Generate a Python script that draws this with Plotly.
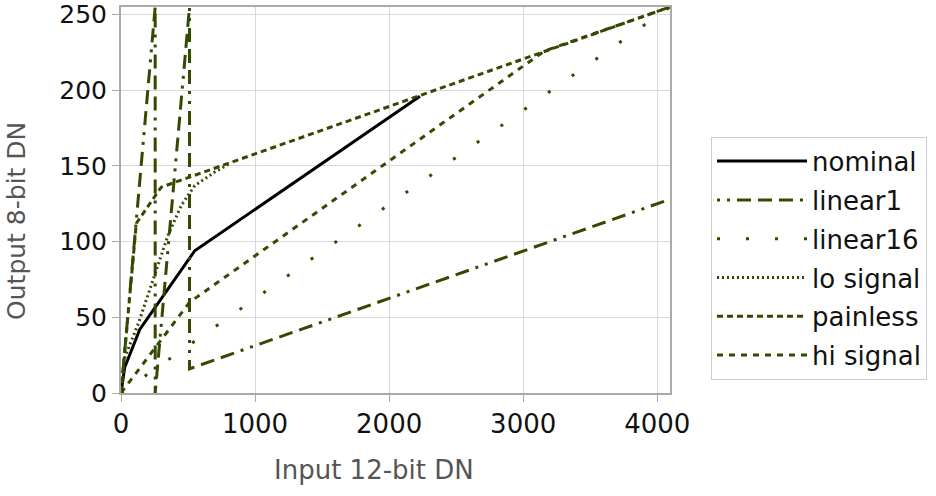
import plotly.graph_objects as go

# ---- data ----
nominal_x = [0, 28, 140, 550, 2230]
nominal_y = [0, 17, 42, 94, 196]

linear1_x = [0, 255, 255, 511, 511, 4095]
linear1_y = [0, 255, 0, 255, 16, 128]

linear16_x = [0, 4095]
linear16_y = [0, 255]

lo_signal_x = [0, 30, 130, 250, 350, 450, 550, 700, 800]
lo_signal_y = [0, 24, 46, 77, 104, 124, 137, 146, 151]

painless_x = [0, 114, 300, 4095]
painless_y = [0, 112, 136, 255]

hi_signal_x = [0, 512, 3160, 4095]
hi_signal_y = [0, 60, 226, 255]

x_ticks = [0, 1000, 2000, 3000, 4000]
y_ticks = [0, 50, 100, 150, 200, 250]

x_title = "Input 12-bit DN"
y_title = "Output 8-bit DN"

GREEN = "#334a00"
FONT = "DejaVu Sans"

series = [
    ("nominal", nominal_x, nominal_y, "black", "solid"),
    ("linear1", linear1_x, linear1_y, GREEN, "3px,7px,3px,7px,14px,7px,14px,7px,14px,7px"),
    ("linear16", linear16_x, linear16_y, GREEN, "3px,26px"),
    ("lo signal", lo_signal_x, lo_signal_y, GREEN, "2px,3px"),
    ("painless", painless_x, painless_y, GREEN, "6px,4px"),
    ("hi signal", hi_signal_x, hi_signal_y, GREEN, "6px,6px"),
]

fig = go.Figure()
for name, xs, ys, color, dash in series:
    fig.add_trace(go.Scatter(
        x=xs, y=ys, name=name, mode="lines",
        line=dict(color=color, width=3, dash=dash),
        legendgroup=name,
    ))

fig.update_layout(
    width=936, height=496,
    margin=dict(l=121, r=266, t=7, b=103, autoexpand=False),
    paper_bgcolor="white", plot_bgcolor="white",
    font=dict(family=FONT, size=25, color="#111111"),
    showlegend=True,
    legend=dict(
        x=1.0747, y=0.664, xanchor="left", yanchor="top",
        bordercolor="#cccccc", borderwidth=1,
        font=dict(family=FONT, size=26, color="#111111"),
        itemwidth=90, tracegroupgap=2, traceorder="grouped",
    ),
    annotations=[
        dict(text=x_title, xref="paper", yref="paper", x=0.46, y=-0.2,
             xanchor="center", yanchor="middle", showarrow=False,
             font=dict(family=FONT, size=26, color="#555555")),
        dict(text=y_title, xref="paper", yref="paper", x=-0.19, y=0.445,
             xanchor="center", yanchor="middle", showarrow=False, textangle=-90,
             font=dict(family=FONT, size=25, color="#555555")),
    ],
)
fig.update_xaxes(
    range=[0, 4095], tickvals=x_ticks, ticktext=[str(v) for v in x_ticks],
    showgrid=True, gridcolor="#d9d9d9", gridwidth=1,
    showline=True, linecolor="#aaaaaa", linewidth=2, mirror=True,
    ticks="outside", ticklen=7, tickcolor="#aaaaaa",
    tickfont=dict(family=FONT, size=26, color="#111111"),
    zeroline=False, ticklabeloverflow="allow", automargin=False,
)
fig.update_yaxes(
    range=[0, 255], tickvals=y_ticks, ticktext=[str(v) for v in y_ticks],
    showgrid=True, gridcolor="#d9d9d9", gridwidth=1,
    showline=True, linecolor="#aaaaaa", linewidth=2, mirror=True,
    ticks="outside", ticklen=7, tickcolor="#aaaaaa",
    tickfont=dict(family=FONT, size=25, color="#111111"),
    zeroline=False, ticklabeloverflow="allow", automargin=False,
)

fig.write_html("out.html")
